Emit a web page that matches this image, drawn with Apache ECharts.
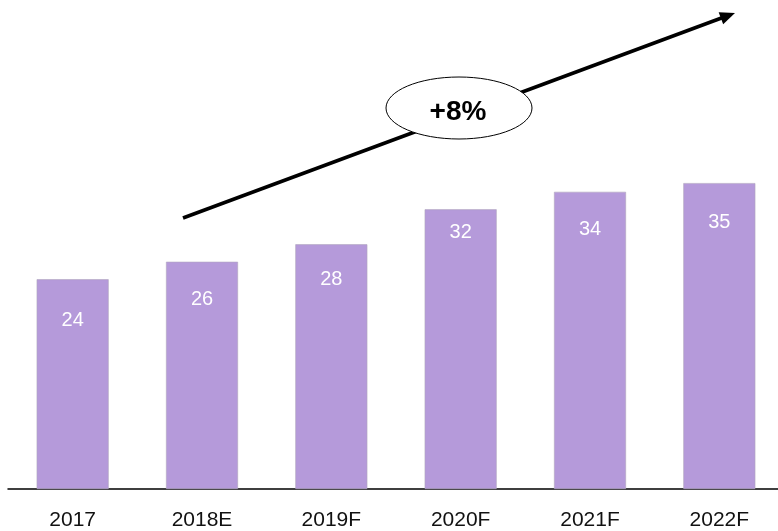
<!DOCTYPE html>
<html>
<head>
<meta charset="utf-8">
<script src="https://cdn.jsdelivr.net/npm/echarts@6/dist/echarts.min.js"></script>
<style>
html,body{margin:0;padding:0;background:#fff;}
#chart{width:778px;height:531px;}
</style>
</head>
<body>
<div id="chart"></div>
<script>
const categories = ['2017', '2018E', '2019F', '2020F', '2021F', '2022F'];
const values = [24, 26, 28, 32, 34, 35];
const growthLabel = '+8%';

const labelOffsets = [41, 38, 35, 23, 38, 39];

const chart = echarts.init(document.getElementById('chart'), null, {renderer: 'canvas'});

// arrow geometry (annotation)
const start = [183, 218], tip = [735, 13];
const dx = tip[0] - start[0], dy = tip[1] - start[1];
const len = Math.sqrt(dx * dx + dy * dy);
const ux = dx / len, uy = dy / len;
const nx = -uy, ny = ux;
const hl = 15, hw = 6.5;
const bx = tip[0] - hl * ux, by = tip[1] - hl * uy;

chart.setOption({
  animation: false,
  backgroundColor: '#ffffff',
  grid: {left: 8, right: -6, top: 139.4, bottom: 42, containLabel: false, outerBoundsMode: 'none'},
  xAxis: {
    type: 'category',
    data: categories,
    axisLine: {show: true, lineStyle: {color: '#000', width: 1.5}},
    axisTick: {show: false},
    axisLabel: {color: '#111', fontSize: 21, fontFamily: 'Liberation Sans, Arial, sans-serif', margin: 21}
  },
  yAxis: {
    type: 'value', min: 0, max: 40, show: false,
    splitLine: {show: false}
  },
  series: [{
    type: 'bar',
    barWidth: 72,
    data: values.map((v, i) => ({
      value: v,
      label: {position: ['50%', labelOffsets[i]]}
    })),
    itemStyle: {color: '#b59ada', borderColor: '#b0a6bd', borderWidth: 0.6},
    label: {
      show: true,
      color: '#ffffff',
      fontSize: 20,
      fontFamily: 'Liberation Sans, Arial, sans-serif',
      align: 'center',
      verticalAlign: 'middle'
    }
  }],
  graphic: [
    {
      type: 'line', z: 10,
      shape: {x1: start[0], y1: start[1], x2: bx + 2 * ux, y2: by + 2 * uy},
      style: {stroke: '#000', lineWidth: 3.6}
    },
    {
      type: 'polygon', z: 10,
      shape: {points: [[tip[0], tip[1]], [bx + hw * nx, by + hw * ny], [bx - hw * nx, by - hw * ny]]},
      style: {fill: '#000'}
    },
    {
      type: 'ellipse', z: 11,
      shape: {cx: 459, cy: 108, rx: 73, ry: 31},
      style: {fill: '#fff', stroke: '#000', lineWidth: 1}
    },
    {
      type: 'text', z: 12,
      x: 458, y: 112,
      style: {
        text: growthLabel,
        fill: '#000',
        font: 'bold 28px "Liberation Sans", Arial, sans-serif',
        textAlign: 'center',
        textVerticalAlign: 'middle'
      }
    }
  ]
});
</script>
</body>
</html>
